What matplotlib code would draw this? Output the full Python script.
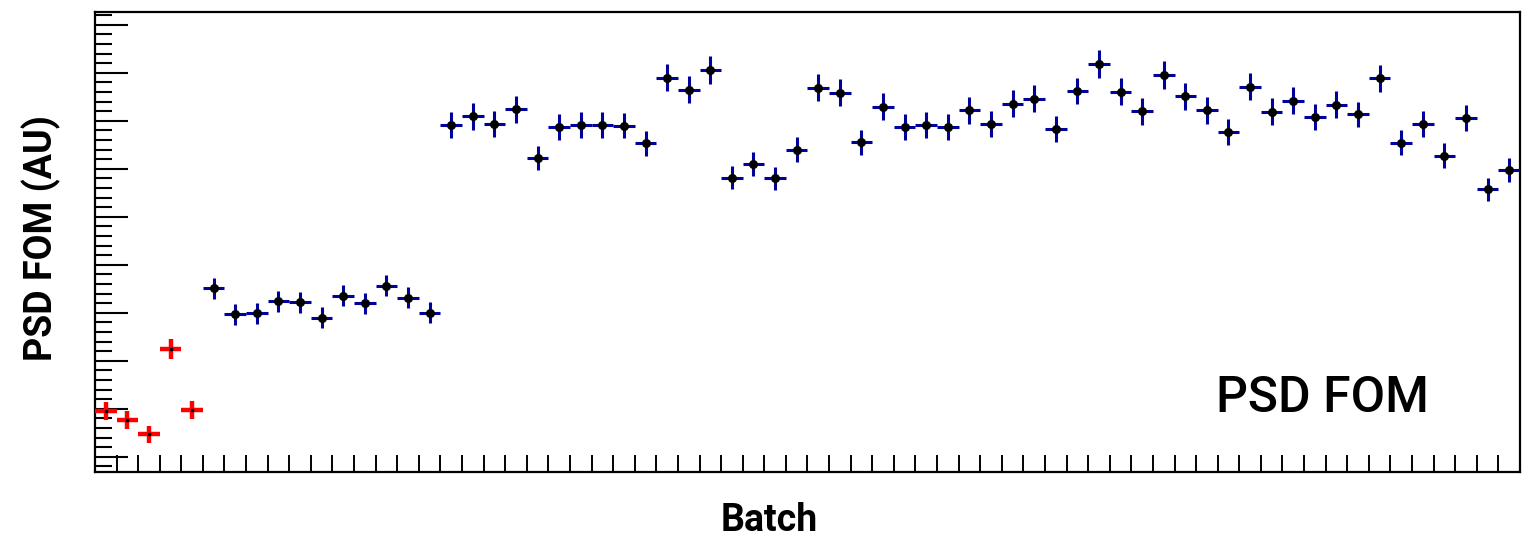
import numpy as np
import matplotlib
matplotlib.use('Agg')
import matplotlib.pyplot as plt
from matplotlib.ticker import MultipleLocator

# batches 0-4 (flagged, red) and 5-65 (good, blue)
red_batch = [0, 1, 2, 3, 4]
red_fom = [0.595, 0.576, 0.547, 0.724, 0.597]
red_err = [0.019, 0.019, 0.018, 0.021, 0.019]

blue_batch = list(range(5, 66))
blue_fom = [
    0.851, 0.797, 0.799, 0.824, 0.822, 0.790, 0.835, 0.820, 0.856, 0.831,
    0.800, 1.192, 1.209, 1.194, 1.224, 1.123, 1.186, 1.192, 1.191, 1.190,
    1.153, 1.290, 1.265, 1.306, 1.081, 1.109, 1.080, 1.140, 1.269, 1.258,
    1.155, 1.229, 1.186, 1.192, 1.186, 1.222, 1.194, 1.235, 1.246, 1.182,
    1.262, 1.319, 1.260, 1.220, 1.295, 1.251, 1.222, 1.176, 1.271, 1.219,
    1.242, 1.208, 1.233, 1.213, 1.288, 1.154, 1.194, 1.127, 1.205, 1.057,
    1.098,
]
blue_err = [
    0.022, 0.022, 0.022, 0.022, 0.022, 0.022, 0.022, 0.022, 0.022, 0.022,
    0.022, 0.027, 0.028, 0.027, 0.028, 0.025, 0.027, 0.027, 0.027, 0.027,
    0.026, 0.029, 0.028, 0.029, 0.024, 0.025, 0.024, 0.026, 0.028, 0.028,
    0.026, 0.028, 0.027, 0.027, 0.027, 0.028, 0.027, 0.028, 0.028, 0.027,
    0.028, 0.029, 0.028, 0.028, 0.029, 0.028, 0.028, 0.027, 0.028, 0.028,
    0.028, 0.027, 0.028, 0.027, 0.029, 0.026, 0.027, 0.026, 0.027, 0.024,
    0.025,
]

fig = plt.figure(figsize=(15.29, 5.38), dpi=100)
ax = fig.add_axes([0.0621, 0.1232, 0.9320, 0.8545])

# bin centres at batch + 0.5, x error = half bin
ax.errorbar(np.array(red_batch) + 0.5, red_fom, xerr=0.5, yerr=red_err,
            fmt='s', ms=1.5, color='black', ecolor='#ff0000',
            elinewidth=3.2, capsize=0, zorder=3)
ax.errorbar(np.array(blue_batch) + 0.5, blue_fom, xerr=0.5, yerr=blue_err,
            fmt='o', ms=5.5, color='black', ecolor='#00009c',
            elinewidth=2.2, capsize=0, zorder=3)

ax.set_xlim(0, 66)
ax.set_ylim(0.46875, 1.4265)

ax.set_xticks(range(1, 66))
ax.set_xticklabels([])
ax.yaxis.set_major_locator(MultipleLocator(0.1))
ax.yaxis.set_minor_locator(MultipleLocator(0.02))
ax.set_yticklabels([])
ax.tick_params(axis='x', direction='in', length=12, width=1.4, top=False)
ax.tick_params(axis='y', which='major', direction='in', length=24, width=1.5, right=False)
ax.tick_params(axis='y', which='minor', direction='in', length=12, width=1.5, right=False)
for s in ax.spines.values():
    s.set_linewidth(1.6)

fonts = ['Roboto', 'DejaVu Sans']
fig.text(769 / 1529, 1 - 531 / 538, 'Batch', fontsize=27, fontweight='bold',
         family=fonts, ha='center', va='baseline')
fig.text(52 / 1529, 1 - 238 / 538, 'PSD FOM (AU)', fontsize=27, fontweight='bold',
         family=fonts, ha='center', va='baseline', rotation=90,
         rotation_mode='anchor')
ax.text(0.787, 0.13, 'PSD FOM', transform=ax.transAxes, fontsize=36,
        family=fonts, fontweight='medium', va='baseline')

plt.savefig('out.png', dpi=100)
